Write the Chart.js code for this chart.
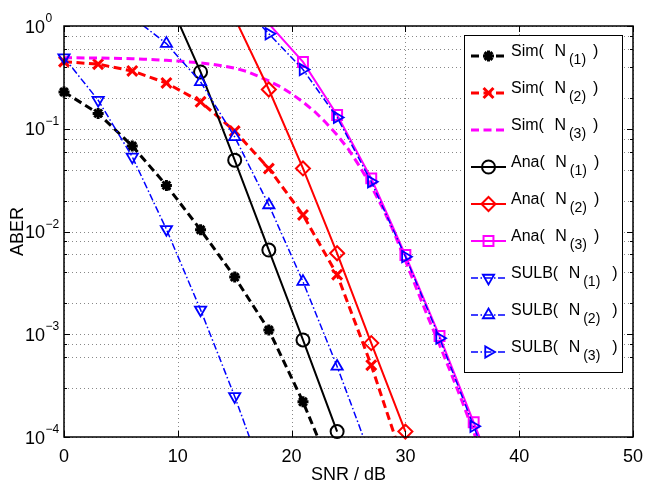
<!DOCTYPE html>
<html>
<head>
<meta charset="utf-8">
<title>ABER vs SNR</title>
<script src="https://cdn.jsdelivr.net/npm/chart.js@4.4.1/dist/chart.umd.min.js"></script>
<style>
  html, body { margin: 0; padding: 0; background: #fff; }
  canvas { display: block; }
</style>
</head>
<body>
<canvas id="aber" width="646" height="483"></canvas>
<script>
const FONT = '"Liberation Sans", Arial, Helvetica, sans-serif';

// simulated curves
const snrSimN1 = [0, 3, 6, 9, 12, 15, 18, 21, 24];
const aberSimN1 = [0.228, 0.141, 0.068, 0.0281, 0.0104, 0.0036, 0.0011, 0.00022, 0.000035];
const snrSimN2 = [0, 3, 6, 9, 12, 15, 18, 21, 24, 27, 30];
const aberSimN2 = [0.45, 0.425, 0.365, 0.279, 0.183, 0.095, 0.041, 0.0145, 0.0038, 0.0005, 0.00005];
const snrSimN3 = [0, 1, 2, 3, 4, 5, 6, 7, 8, 9, 10, 11, 12, 13, 14, 15, 16, 17, 18,
                  19, 20, 21, 22, 23, 24, 25, 26, 27, 28, 29, 30, 31, 32, 33, 34, 35, 36, 37];
const aberSimN3 = [0.490, 0.490, 0.489, 0.488, 0.485, 0.483, 0.480, 0.475, 0.470, 0.463,
                   0.456, 0.447, 0.437, 0.425, 0.409, 0.389, 0.363, 0.327, 0.292, 0.257,
                   0.219, 0.182, 0.148, 0.115, 0.087, 0.063, 0.0427, 0.0275, 0.0170, 0.0098,
                   0.0052, 0.00275, 0.00145, 0.00079, 0.00042, 0.00022, 0.000112, 0.000056];

// analytical curves
const snrAnaN1 = [9, 12, 15, 18, 21, 24];
const aberAnaN1 = [2.0, 0.357, 0.0495, 0.0066, 0.00088, 0.000113];
const snrAnaN2 = [15, 18, 21, 24, 27, 30];
const aberAnaN2 = [1.2, 0.241, 0.0411, 0.00614, 0.00082, 0.000113];
const snrAnaN3 = [18, 21, 24, 27, 30, 33, 36, 39];
const aberAnaN3 = [1.05, 0.447, 0.136, 0.0329, 0.0059, 0.00096, 0.000139, 0.00002];

// lower bounds
const snrSulbN1 = [0, 3, 6, 9, 12, 15, 18];
const aberSulbN1 = [0.493, 0.19, 0.0533, 0.0105, 0.00173, 0.000248, 0.00003];
const snrSulbN2 = [6, 9, 12, 15, 18, 21, 24, 27];
const aberSulbN2 = [1.22, 0.674, 0.286, 0.0834, 0.0181, 0.00325, 0.000486, 0.000062];
const snrSulbN3 = [15, 18, 21, 24, 27, 30, 33, 36, 39];
const aberSulbN3 = [1.9, 0.84, 0.377, 0.129, 0.0305, 0.00569, 0.000916, 0.000127, 0.000018];

const xTicks = [0, 10, 20, 30, 40, 50];
const yDecades = [0, -1, -2, -3, -4];

const DASH = [8, 4.5];
const DASHDOT = [7, 2.5, 1.5, 2.5];

const series = [
  { name: 'Sim', n: 1, x: snrSimN1, y: aberSimN1, color: '#000000', width: 3, dash: DASH, marker: 'star', radius: 5.5, mw: 3 },
  { name: 'Sim', n: 2, x: snrSimN2, y: aberSimN2, color: '#ff0000', width: 3, dash: DASH, marker: 'crossRot', radius: 7, mw: 3 },
  { name: 'Sim', n: 3, x: snrSimN3, y: aberSimN3, color: '#ff00ff', width: 3, dash: DASH, marker: null },
  { name: 'Ana', n: 1, x: snrAnaN1, y: aberAnaN1, color: '#000000', width: 2, dash: [], marker: 'circle', radius: 6.5, mw: 2 },
  { name: 'Ana', n: 2, x: snrAnaN2, y: aberAnaN2, color: '#ff0000', width: 2, dash: [], marker: 'rectRot', radius: 7, mw: 2 },
  { name: 'Ana', n: 3, x: snrAnaN3, y: aberAnaN3, color: '#ff00ff', width: 2, dash: [], marker: 'rect', radius: 7, mw: 2 },
  { name: 'SULB', n: 1, x: snrSulbN1, y: aberSulbN1, color: '#0000ff', width: 1.5, dash: DASHDOT, marker: 'triangle', radius: 6.5, mw: 1.8, rot: 180 },
  { name: 'SULB', n: 2, x: snrSulbN2, y: aberSulbN2, color: '#0000ff', width: 1.5, dash: DASHDOT, marker: 'triangle', radius: 6.5, mw: 1.8, rot: 0 },
  { name: 'SULB', n: 3, x: snrSulbN3, y: aberSulbN3, color: '#0000ff', width: 1.5, dash: DASHDOT, marker: 'triangle', radius: 6.5, mw: 1.8, rot: 90 }
];

const inRange = v => v >= 1e-4 * 0.999 && v <= 1.001;

// each curve = a clipped line + an unclipped marker layer, later curves on top
const datasets = [];
series.forEach((s, i) => {
  const pts = s.x.map((v, k) => ({ x: v, y: s.y[k] }));
  const base = 2 * (series.length - i);
  datasets.push({
    data: pts, borderColor: s.color, borderWidth: s.width, borderDash: s.dash,
    pointRadius: 0, fill: false, tension: 0, clip: 0, order: base + 1
  });
  if (s.marker) {
    datasets.push({
      data: pts, showLine: false, clip: false, order: base,
      pointStyle: s.marker, pointRotation: s.rot || 0,
      pointRadius: c => (c.raw && inRange(c.raw.y)) ? s.radius : 0,
      pointBorderWidth: s.mw, pointBorderColor: s.color,
      pointBackgroundColor: 'rgba(0,0,0,0)', borderColor: s.color
    });
  }
});

const gridPlugin = {
  id: 'matlabGrid',
  beforeDatasetsDraw(chart) {
    const { ctx, chartArea: a, scales: { x, y } } = chart;
    ctx.save();
    ctx.strokeStyle = '#888';
    ctx.lineWidth = 1;
    ctx.setLineDash([1, 3]);
    y.ticks.forEach(t => {
      const py = Math.round(y.getPixelForValue(t.value)) + 0.5;
      ctx.beginPath(); ctx.moveTo(a.left, py); ctx.lineTo(a.right, py); ctx.stroke();
    });
    xTicks.forEach(v => {
      const px = Math.round(x.getPixelForValue(v)) + 0.5;
      ctx.beginPath(); ctx.moveTo(px, a.top); ctx.lineTo(px, a.bottom); ctx.stroke();
    });
    ctx.restore();
  }
};

function drawLegend(ctx) {
  const lx = 464.5, ly = 35.5, lw = 158, lh = 337;
  ctx.save();
  ctx.fillStyle = '#fff';
  ctx.fillRect(lx, ly, lw, lh);
  ctx.strokeStyle = '#000';
  ctx.lineWidth = 1;
  ctx.setLineDash([]);
  ctx.strokeRect(lx, ly, lw, lh);

  series.forEach((s, i) => {
    const ry = 56 + i * 37;
    ctx.strokeStyle = s.color;
    ctx.lineWidth = s.width;
    ctx.setLineDash(s.dash);
    ctx.beginPath(); ctx.moveTo(471, ry); ctx.lineTo(506, ry); ctx.stroke();
    ctx.setLineDash([]);
    if (s.marker) {
      ctx.lineWidth = s.mw;
      ctx.fillStyle = 'rgba(0,0,0,0)';
      Chart.helpers.drawPoint(ctx, { pointStyle: s.marker, radius: s.radius, rotation: s.rot || 0, borderWidth: s.mw }, 488.5, ry);
    }

    // "Name( N_(k) )" with a lowered, smaller subscript
    ctx.fillStyle = '#000';
    ctx.textAlign = 'left';
    ctx.textBaseline = 'alphabetic';
    let tx = 511;
    ctx.font = '16px ' + FONT;
    ctx.fillText(s.name + '(', tx, ry - 0.5);
    tx += ctx.measureText(s.name + '(').width + 10.5;
    ctx.fillText('N', tx, ry - 0.5);
    tx += ctx.measureText('N').width + 3;
    ctx.font = '14px ' + FONT;
    const sub = '(' + s.n + ')';
    ctx.fillText(sub, tx, ry + 8);
    tx += ctx.measureText(sub).width + (s.name === 'SULB' ? 12 : 7);
    ctx.font = '16px ' + FONT;
    ctx.fillText(')', tx, ry - 0.5);
  });
  ctx.restore();
}

const axesPlugin = {
  id: 'matlabAxes',
  afterDraw(chart) {
    const { ctx, chartArea: a, scales: { x, y } } = chart;
    ctx.save();
    ctx.strokeStyle = '#000';
    ctx.lineWidth = 1;
    ctx.setLineDash([]);

    // inward tick marks on all four sides
    ctx.beginPath();
    xTicks.forEach(v => {
      const px = Math.round(x.getPixelForValue(v)) + 0.5;
      ctx.moveTo(px, a.bottom); ctx.lineTo(px, a.bottom - 6);
      ctx.moveTo(px, a.top); ctx.lineTo(px, a.top + 6);
    });
    y.ticks.forEach(t => {
      const lg = Math.log10(t.value);
      const len = Math.abs(lg - Math.round(lg)) < 1e-6 ? 6 : 3;
      const py = Math.round(y.getPixelForValue(t.value)) + 0.5;
      ctx.moveTo(a.left, py); ctx.lineTo(a.left + len, py);
      ctx.moveTo(a.right, py); ctx.lineTo(a.right - len, py);
    });
    ctx.stroke();

    // axes box
    ctx.lineWidth = 1.5;
    ctx.strokeRect(a.left, a.top, a.right - a.left, a.bottom - a.top);

    // tick labels
    ctx.fillStyle = '#000';
    ctx.textBaseline = 'alphabetic';
    ctx.font = '18px ' + FONT;
    ctx.textAlign = 'center';
    xTicks.forEach(v => ctx.fillText(String(v), x.getPixelForValue(v), 461.5));

    ctx.textAlign = 'left';
    yDecades.forEach(e => {
      const py = y.getPixelForValue(Math.pow(10, e));
      ctx.font = '18px ' + FONT;
      ctx.fillText('10', 25, py + 6.5);
      ctx.font = '12px ' + FONT;
      ctx.fillText(e === 0 ? '0' : '\u2212' + (-e), 45.5, py - 4);
    });

    // axis titles
    ctx.font = '18px ' + FONT;
    ctx.textAlign = 'center';
    ctx.fillText('SNR / dB', (a.left + a.right) / 2, 480);
    ctx.save();
    ctx.translate(23, (a.top + a.bottom) / 2);
    ctx.rotate(-Math.PI / 2);
    ctx.fillText('ABER', 0, 0);
    ctx.restore();

    drawLegend(ctx);
    ctx.restore();
  }
};

new Chart(document.getElementById('aber'), {
  type: 'line',
  data: { datasets },
  options: {
    responsive: false,
    animation: false,
    events: [],
    layout: { padding: { left: 64, top: 26, right: 13, bottom: 46 } },
    scales: {
      x: { type: 'linear', min: 0, max: 50, display: false },
      y: { type: 'logarithmic', min: 1e-4, max: 1, display: false }
    },
    plugins: { legend: { display: false }, tooltip: { enabled: false } }
  },
  plugins: [gridPlugin, axesPlugin]
});
</script>
</body>
</html>
